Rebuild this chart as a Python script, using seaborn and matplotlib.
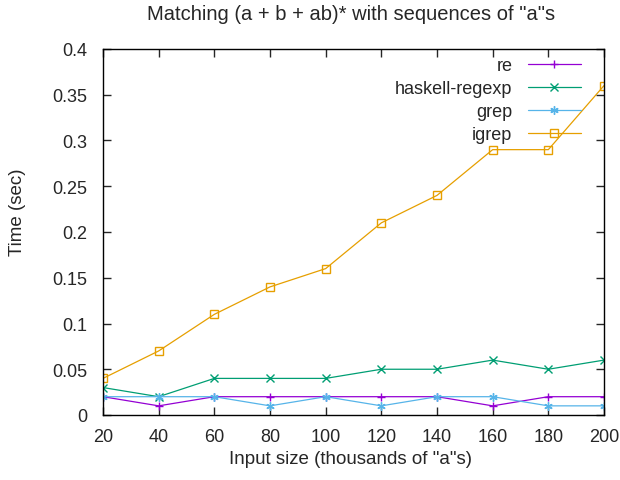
# Matching (a + b + ab)* timing chart

import numpy as np
import matplotlib
matplotlib.use("Agg")
import matplotlib.pyplot as plt
import pandas as pd
import seaborn as sns
from matplotlib.ticker import FuncFormatter, MultipleLocator

# Data
sizes = [20, 40, 60, 80, 100, 120, 140, 160, 180, 200]
re_times = [0.02, 0.01, 0.02, 0.02, 0.02, 0.02, 0.02, 0.01, 0.02, 0.02]
haskell_times = [0.03, 0.02, 0.04, 0.04, 0.04, 0.05, 0.05, 0.06, 0.05, 0.06]
grep_times = [0.02, 0.02, 0.02, 0.01, 0.02, 0.01, 0.02, 0.02, 0.01, 0.01]
igrep_times = [0.04, 0.07, 0.11, 0.14, 0.16, 0.21, 0.24, 0.29, 0.29, 0.36]
series_names = ["re", "haskell-regexp", "grep", "igrep"]

sns.set_style("ticks")
plt.rcParams["font.family"] = ["Liberation Sans", "DejaVu Sans"]

colors = {"re": "#9400D3", "haskell-regexp": "#009E73",
          "grep": "#56B4E9", "igrep": "#E69F00"}
markers = {"re": "+", "haskell-regexp": "x", "grep": (6, 2, 0), "igrep": "s"}

W, H = 620, 481
fig = plt.figure(figsize=(6.2, 4.81), dpi=100)
# plot box: x 103..604, y 50..416 (pixels)
ax = fig.add_axes([103 / W, 1 - 416 / H, 501 / W, 366 / H])

# one call per series so line-art and filled markers can be mixed
for name, vals in zip(series_names, [re_times, haskell_times, grep_times, igrep_times]):
    d = pd.DataFrame({"size": sizes, "time": vals})
    sns.lineplot(data=d, x="size", y="time", color=colors[name],
                 marker=markers[name], label=name,
                 linewidth=0.9, markersize=6, markerfacecolor="none",
                 markeredgecolor=colors[name], markeredgewidth=1.0, ax=ax)

ax.set_xlim(20, 200)
ax.set_ylim(0, 0.4)
ax.xaxis.set_major_locator(MultipleLocator(20))
ax.yaxis.set_major_locator(MultipleLocator(0.05))
ax.yaxis.set_major_formatter(FuncFormatter(lambda v, p: "%g" % round(v, 2)))
ax.tick_params(direction="in", top=True, right=True, length=6, width=1,
               labelsize=13)
ax.tick_params(axis="y", pad=11)
ax.tick_params(axis="x", pad=9)
for s in ax.spines.values():
    s.set_linewidth(1)
    s.set_color("black")

ax.set_xlabel("")
ax.set_ylabel("")
fig.text(351 / W, 1 - 14 / H, 'Matching (a + b + ab)* with sequences of "a"s',
         fontsize=14.5, ha="center", va="center")
fig.text(350 / W, 1 - 460 / H, 'Input size (thousands of "a"s)',
         fontsize=13.5, ha="center", va="center")
fig.text(18 / W, 1 - 212 / H, "Time (sec)", fontsize=13.5, rotation=90,
         ha="center", va="center")

leg = ax.legend(loc="upper right", bbox_to_anchor=(581 / W, 1 - 58 / H),
                bbox_transform=fig.transFigure, frameon=False,
                markerfirst=False, fontsize=13, handlelength=2.95,
                labelspacing=0.34, handletextpad=0.85, borderpad=0,
                borderaxespad=0)

plt.savefig("out.png", dpi=100)
